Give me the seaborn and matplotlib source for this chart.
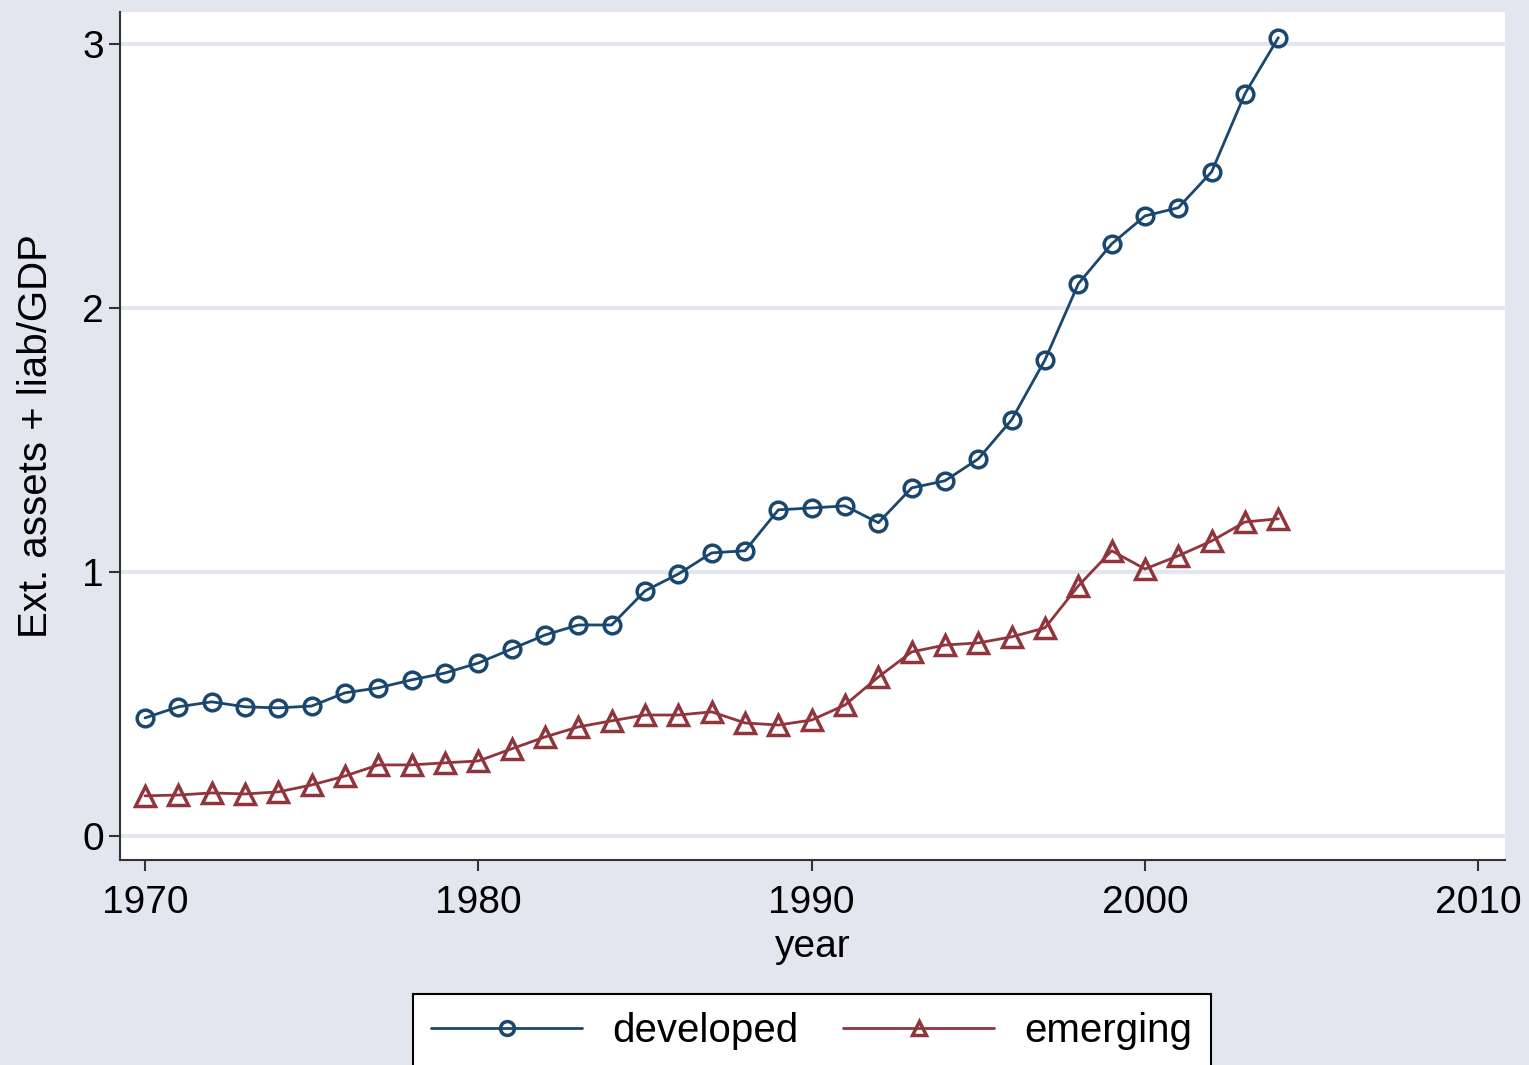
import matplotlib
matplotlib.use("Agg")
import matplotlib.pyplot as plt
import seaborn as sns
import pandas as pd

# datos
years = list(range(1970, 2005))
developed = [0.447, 0.489, 0.508, 0.489, 0.485, 0.492, 0.542, 0.561, 0.591, 0.617,
             0.655, 0.708, 0.761, 0.799, 0.799, 0.928, 0.992, 1.072, 1.080, 1.235,
             1.242, 1.250, 1.186, 1.318, 1.345, 1.428, 1.576, 1.803, 2.091, 2.242,
             2.348, 2.379, 2.515, 2.811, 3.023]
emerging = [0.152, 0.155, 0.163, 0.159, 0.167, 0.193, 0.227, 0.269, 0.269, 0.277,
            0.284, 0.330, 0.375, 0.413, 0.436, 0.458, 0.458, 0.470, 0.428, 0.420,
            0.439, 0.496, 0.602, 0.697, 0.723, 0.731, 0.754, 0.788, 0.947, 1.080,
            1.011, 1.061, 1.117, 1.189, 1.201]
x_ticks = [1970, 1980, 1990, 2000, 2010]
y_ticks = [0, 1, 2, 3]

df = pd.DataFrame({"year": years, "developed": developed, "emerging": emerging})

bg = "#E1E6EF"
navy = "#1A476F"
maroon = "#90353B"

sns.set_style("white")
plt.rcParams["font.family"] = ["Liberation Sans", "DejaVu Sans"]
plt.rcParams["text.color"] = "black"
plt.rcParams["axes.labelcolor"] = "black"
plt.rcParams["xtick.color"] = "black"
plt.rcParams["ytick.color"] = "black"

fig = plt.figure(figsize=(15.29, 10.65), dpi=100, facecolor=bg)
ax = fig.add_axes([0.0785, 0.1925, 0.9058, 0.7962])
ax.set_facecolor("white")

sns.lineplot(data=df, x="year", y="developed", ax=ax, color=navy, lw=2,
             marker="o", ms=12, mfc="none", mec=navy, mew=2.5, label="developed")
sns.lineplot(data=df, x="year", y="emerging", ax=ax, color=maroon, lw=2,
             marker="^", ms=14, mfc="none", mec=maroon, mew=2.5, label="emerging")

ax.set_xlim(1969.25, 2010.8)
ax.set_ylim(-0.091, 3.12)
ax.set_xticks(x_ticks)
ax.set_yticks(y_ticks)
ax.grid(axis="y", color=bg, lw=3)
ax.set_axisbelow(True)
for s in ["top", "right"]:
    ax.spines[s].set_visible(False)
for s in ["left", "bottom"]:
    ax.spines[s].set_color("#333333")
    ax.spines[s].set_linewidth(1.5)
ax.tick_params(axis="both", labelsize=28, direction="out", length=8, width=1.5,
               color="#333333", left=True, bottom=True)
ax.tick_params(axis="x", pad=10)
ax.set_xlabel("year", fontsize=28, labelpad=6)
ax.set_ylabel("Ext. assets + liab/GDP", fontsize=29, labelpad=20)

h, l = ax.get_legend_handles_labels()
ax.get_legend().remove()
leg = fig.legend(h, l, loc="lower center", bbox_to_anchor=(0.531, -0.022), ncol=2,
                 fontsize=29, frameon=True, fancybox=False, edgecolor="black",
                 facecolor="white", framealpha=1,
                 handlelength=3.75, columnspacing=1.1, borderpad=0.45,
                 borderaxespad=0.5, handletextpad=0.75)
leg.get_frame().set_linewidth(1.5)
for line in leg.get_lines():
    line.set_markersize(10)
    line.set_markerfacecolor("none")

fig.savefig("out.png", dpi=100, facecolor=bg)
